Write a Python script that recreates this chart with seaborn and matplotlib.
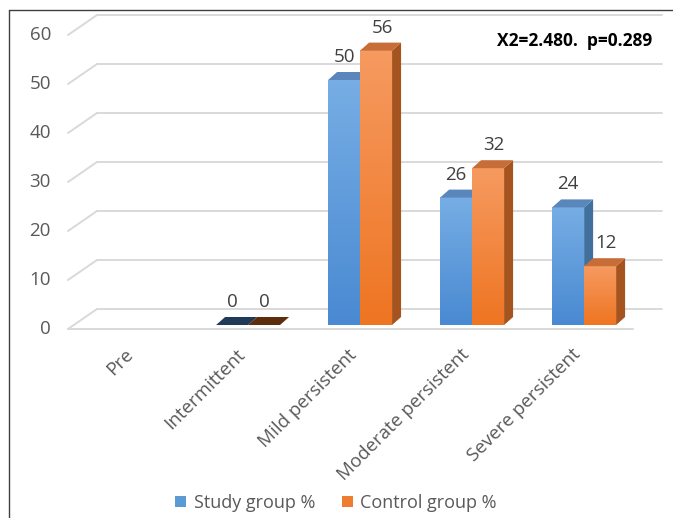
import numpy as np
import pandas as pd
import matplotlib
matplotlib.use("Agg")
import matplotlib.pyplot as plt
import matplotlib.transforms as mtransforms
from matplotlib.patches import Polygon, Patch
from matplotlib.lines import Line2D
from matplotlib.colors import LinearSegmentedColormap
import seaborn as sns

# ---- data -------------------------------------------------------------
categories = ["Pre", "Intermittent", "Mild persistent", "Moderate persistent", "Severe persistent"]
groups = ["Study group %", "Control group %"]
study_values = [np.nan, 0, 50, 26, 24]
control_values = [np.nan, 0, 56, 32, 12]
y_ticks = [0, 10, 20, 30, 40, 50, 60]
stat_text = "X2=2.480.  p=0.289"

df = pd.DataFrame({
    "category": categories * 2,
    "group": [groups[0]] * len(categories) + [groups[1]] * len(categories),
    "value": study_values + control_values,
}).dropna()

# ---- styling ----------------------------------------------------------
sns.set_theme(style="white")
plt.rcParams["font.family"] = ["Open Sans", "DejaVu Sans"]

flat = {groups[0]: "#5b9bd5", groups[1]: "#ed7d31"}
grad = {groups[0]: ("#76ade4", "#4a8ad2"), groups[1]: ("#f69a60", "#ee7522")}
side_col = {groups[0]: "#41709f", groups[1]: "#a5541f"}
top_col = {groups[0]: "#5a86bb", groups[1]: "#c76d37"}
zero_top_col = {groups[0]: "#1f3b58", groups[1]: "#5e2d0d"}
label_dx = {groups[0]: 0, groups[1]: 6}
grid_col = "#d9d9d9"
label_col = "#595959"
fs = 13.5

W, H = 673, 518
fig = plt.figure(figsize=(W / 100, H / 100), dpi=100)
fig.patch.set_facecolor("white")

# front plane of the bars, placed in pixel terms
ax_l, ax_r, ax_b, ax_t = 74, 639, 325, 31
ax = fig.add_axes([ax_l / W, (H - ax_b) / H, (ax_r - ax_l) / W, (ax_b - ax_t) / H])

sns.barplot(data=df, x="category", y="value", hue="group", order=categories,
            hue_order=groups, palette=flat, width=0.571, saturation=1,
            legend=False, ax=ax)

xmin, xmax = -0.554, 4.49
ax.set_xlim(xmin, xmax)
ax.set_ylim(0, 60)
ax.set_axis_off()


def shifted(dx, dy):
    """Data transform moved by (dx, dy) pixels."""
    return ax.transData + mtransforms.ScaledTranslation(dx / 100, dy / 100, fig.dpi_scale_trans)


front = (-6, -4)
back = (23, 16)
depth_px = (9, 8)

# ---- back wall gridlines, left wall diagonals, floor front edge --------
for v in y_ticks:
    ax.plot([xmin, xmax], [v, v], color=grid_col, lw=1.4, zorder=0.5,
            transform=shifted(*back), clip_on=False)
    p_front = shifted(*front).transform((xmin, v))
    p_back = shifted(*back).transform((xmin, v))
    fig.add_artist(Line2D([p_front[0] / W, p_back[0] / W], [p_front[1] / H, p_back[1] / H],
                          color=grid_col, lw=1.4, zorder=0.5))
ax.plot([xmin, xmax], [0, 0], color=grid_col, lw=1.4, zorder=0.5,
        transform=shifted(*front), clip_on=False)

for v in y_ticks:
    ax.text(xmin, v, str(v), transform=shifted(-23, -4), ha="right", va="center",
            fontsize=fs, color=label_col, clip_on=False)

# ---- 3D faces for each bar --------------------------------------------
o = ax.transData.transform((0, 0))
ddx = depth_px[0] / (ax.transData.transform((1, 0)) - o)[0]
ddy = depth_px[1] / (ax.transData.transform((0, 1)) - o)[1]

for gi, (container, g) in enumerate(zip(ax.containers, groups)):
    cmap = LinearSegmentedColormap.from_list(g, [grad[g][1], grad[g][0]])
    for bar in container:
        x0 = bar.get_x()
        w = bar.get_width()
        h = bar.get_height()
        ci = int(round(x0 + w / 2 + (0.143 if gi == 0 else -0.143)))
        z = 2 + ci * 0.2 + gi * 0.1
        bar.set_zorder(z)
        bar.set_edgecolor("none")
        if h > 0:
            ax.imshow(np.linspace(0, 1, 64).reshape(-1, 1), extent=(x0, x0 + w, 0, h),
                      origin="lower", cmap=cmap, aspect="auto", zorder=z + 0.01,
                      interpolation="bilinear")
            ax.add_patch(Polygon([(x0 + w, 0), (x0 + w, h), (x0 + w + ddx, h + ddy),
                                  (x0 + w + ddx, ddy)], closed=True, facecolor=side_col[g],
                                 edgecolor="none", zorder=z + 0.02))
        tc = top_col[g] if h > 0 else zero_top_col[g]
        ax.add_patch(Polygon([(x0, h), (x0 + w, h), (x0 + w + ddx, h + ddy),
                              (x0 + ddx, h + ddy)], closed=True, facecolor=tc,
                             edgecolor="none", zorder=z + 0.03))
        dx = label_dx[g] if h > 0 else 0
        ax.text(x0 + w / 2, h, f"{h:g}", transform=shifted(dx, 23), ha="center", va="center",
                fontsize=fs, color="#404040", zorder=10, clip_on=False)

ax.set_xlim(xmin, xmax)
ax.set_ylim(0, 60)

# ---- category labels --------------------------------------------------
for i, c in enumerate(categories):
    ax.text(i, 0, c, transform=shifted(-6, -27), rotation=45, rotation_mode="anchor",
            ha="right", va="center", fontsize=fs, color=label_col, clip_on=False)

# ---- statistic, legend, frame ----------------------------------------
fig.text(497 / W, (H - 41) / H, stat_text, fontsize=12.5, fontweight="bold",
         color="black", ha="left", va="center")

handles = [Patch(facecolor=flat[g], edgecolor="none", label=g) for g in groups]
fig.legend(handles=handles, loc="center", bbox_to_anchor=(336 / W, (H - 503) / H),
           ncol=2, frameon=False, fontsize=13, labelcolor=label_col,
           handlelength=0.6, handleheight=0.6, handletextpad=0.4, columnspacing=1.5)

fig.add_artist(Line2D([9 / W, 9 / W], [0, (H - 10) / H], color="#404040", lw=1))
fig.add_artist(Line2D([9 / W, 1], [(H - 10) / H, (H - 10) / H], color="#404040", lw=1))

fig.savefig("out.png", dpi=100)
